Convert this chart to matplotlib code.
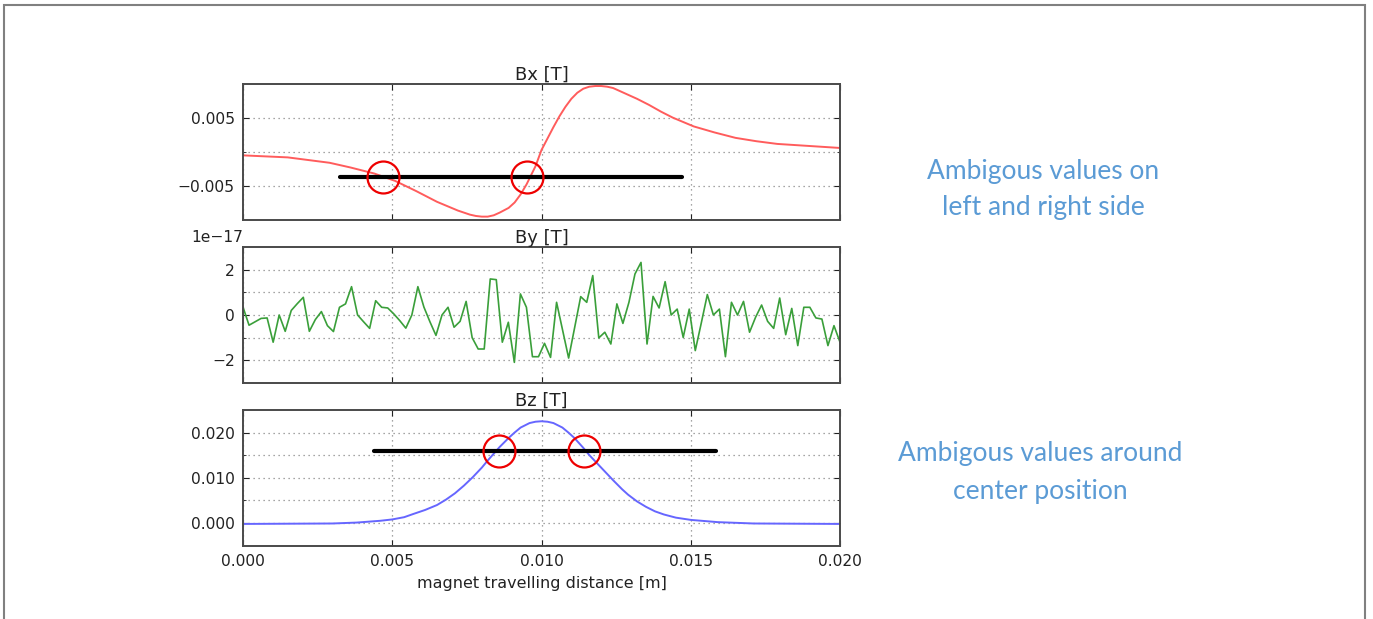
import numpy as np
import matplotlib
matplotlib.use('Agg')
import matplotlib.pyplot as plt
from matplotlib.ticker import FixedLocator, FuncFormatter
from matplotlib.patches import Rectangle

# ---------------- data ----------------
bx_x = [0.0, 0.0015, 0.0029, 0.0036, 0.0044, 0.0051, 0.0058, 0.0065, 0.0072,
        0.0076, 0.0078, 0.0080, 0.0082, 0.0084, 0.0086, 0.0089, 0.0091, 0.0093,
        0.0095, 0.0098, 0.0100, 0.0102, 0.0104, 0.0106, 0.0108, 0.0110, 0.0112,
        0.0114, 0.0116, 0.0118, 0.0120, 0.0122, 0.0124, 0.0126, 0.0129, 0.0132,
        0.0136, 0.0140, 0.0144, 0.0151, 0.0158, 0.0165, 0.0172, 0.0179, 0.0186,
        0.0200]
bx_v = [-0.0005, -0.0008, -0.0016, -0.0023, -0.0032, -0.0043, -0.0058, -0.0074, -0.0087,
        -0.0093, -0.0095, -0.0096, -0.0096, -0.0094, -0.0090, -0.0083, -0.0075, -0.0063,
        -0.0048, -0.0021, 0.0003, 0.0020, 0.0037, 0.0053, 0.0067, 0.0079, 0.0088,
        0.0094, 0.0097, 0.0098, 0.0098, 0.0097, 0.0095, 0.0091, 0.0085, 0.0079,
        0.0070, 0.0060, 0.0051, 0.0038, 0.0029, 0.0021, 0.0016, 0.0012, 0.0010,
        0.0006]

by_v = [0.35, -0.45, -0.3, -0.15, -0.13, -1.2, 0.0, -0.72, 0.2, 0.5,
        0.78, -0.72, -0.2, 0.15, -0.47, -0.73, 0.34, 0.49, 1.25, 0.0,
        -0.3, -0.59, 0.63, 0.34, 0.31, 0.05, -0.25, -0.58, 0.0, 1.25,
        0.35, -0.3, -0.9, 0.0, 0.34, -0.54, -0.28, 0.6, -1.0, -1.5,
        -1.5, 1.59, 1.56, -1.2, -0.32, -2.09, 0.93, 0.34, -1.84, -1.84,
        -1.25, -1.87, 0.56, -0.67, -1.9, -0.55, 0.81, 0.56, 1.74, -1.01,
        -0.76, -1.28, 0.49, -0.37, 0.56, 1.81, 2.32, -1.28, 0.82, 0.31,
        1.47, 0.0, 0.26, -0.99, 0.26, -1.57, -0.35, 0.9, 0.0, 0.26,
        -1.84, 0.56, 0.0, 0.6, -0.76, -0.1, 0.44, -0.28, -0.59, 0.75,
        -0.87, 0.29, -1.35, 0.34, 0.34, -0.13, -0.18, -1.35, -0.47, -1.2]
by_scale = 1e-17
by_x = np.linspace(0.0, 0.02, len(by_v))

bz_x = [0.0, 0.0030, 0.0038, 0.0046, 0.0050, 0.0054, 0.0057, 0.0061, 0.0065,
        0.0068, 0.0071, 0.0074, 0.0077, 0.0080, 0.0082, 0.0084, 0.0086, 0.0089,
        0.0091, 0.0093, 0.0096, 0.0098, 0.0100, 0.0102, 0.0104, 0.0107, 0.0109,
        0.0111, 0.0114, 0.0116, 0.0118, 0.0121, 0.0124, 0.0127, 0.0129, 0.0132,
        0.0135, 0.0138, 0.0141, 0.0145, 0.0150, 0.0159, 0.0171, 0.0200]
bz_v = [-0.0003, -0.0002, 0.0000, 0.0004, 0.0007, 0.0012, 0.0019, 0.0028, 0.0039,
        0.0051, 0.0065, 0.0082, 0.0101, 0.0122, 0.0138, 0.0153, 0.0168, 0.0188,
        0.0200, 0.0211, 0.0221, 0.0224, 0.0225, 0.0224, 0.0221, 0.0211, 0.0200,
        0.0188, 0.0166, 0.0150, 0.0136, 0.0115, 0.0094, 0.0074, 0.0062, 0.0047,
        0.0035, 0.0025, 0.0018, 0.0011, 0.0006, 0.0001, -0.0002, -0.0003]

titles = ["Bx [T]", "By [T]", "Bz [T]"]
xlabel = "magnet travelling distance [m]"
x_ticks = [0.0, 0.005, 0.010, 0.015, 0.020]

# annotation overlays (data coordinates)
bx_bar_x = [0.00326, 0.01471]
bx_bar_y = -0.0037
bx_circ_x = [0.00470, 0.00952]
bz_bar_x = [0.00440, 0.01585]
bz_bar_y = 0.0160
bz_circ_x = [0.00859, 0.01141]

note1 = "Ambigous values on\nleft and right side"
note2 = "Ambigous values around\ncenter position"

# ---------------- figure ----------------
W, H = 1373, 619
fig = plt.figure(figsize=(W / 100, H / 100), dpi=100)
fig.patch.set_facecolor('white')

def fx(px):
    return px / W

def fy(py):
    return 1 - py / H

left, right = 243, 840
rows = [(84, 220), (247, 383), (410, 546)]
axes = []
for (t, b) in rows:
    ax = fig.add_axes([fx(left), fy(b), fx(right) - fx(left), (b - t) / H])
    axes.append(ax)

label_fs = 11.2
title_fs = 13
tick_color = '#222222'
spine_color = '#4a4a4a'

def minus_fmt(fmt):
    return FuncFormatter(lambda v, p: (fmt % v).replace('-', '\u2212'))

for i, ax in enumerate(axes):
    ax.set_xlim(0, 0.02)
    ax.xaxis.set_major_locator(FixedLocator(x_ticks))
    for s in ax.spines.values():
        s.set_color(spine_color)
        s.set_linewidth(1.4)
    ax.tick_params(which='both', direction='in', top=True, right=True,
                   labelsize=label_fs, colors=tick_color, length=4, pad=6)
    ax.tick_params(which='minor', length=2)
    ax.set_title(titles[i], fontsize=title_fs, color=tick_color, pad=2)
    ax.grid(True, which='both', linestyle=(0, (1, 3)), color='#888888', linewidth=0.9)
    ax.set_axisbelow(True)
    if i < 2:
        ax.tick_params(labelbottom=False)
    else:
        ax.xaxis.set_major_formatter(minus_fmt('%.3f'))
        ax.set_xlabel(xlabel, fontsize=11.5, color=tick_color, labelpad=5)
    ax.xaxis.grid(False, which='minor')

# Bx
ax = axes[0]
ax.plot(bx_x, bx_v, color='#ff5c5c', lw=1.4)
ax.set_ylim(-0.0101, 0.0101)
ax.yaxis.set_major_locator(FixedLocator([-0.005, 0.005]))
ax.yaxis.set_minor_locator(FixedLocator([0.0]))
ax.yaxis.set_major_formatter(minus_fmt('%.3f'))
ax.plot(bx_bar_x, [bx_bar_y, bx_bar_y], color='black', lw=3, solid_capstyle='round')
ax.plot(bx_circ_x, [bx_bar_y] * 2, linestyle='none', marker='o', ms=23,
        mfc='none', mec='#ee0000', mew=1.6)

# By
ax = axes[1]
ax.plot(by_x, np.array(by_v) * by_scale, color='#3a9f3a', lw=1.2)
ax.set_ylim(-3e-17, 3e-17)
ax.yaxis.set_major_locator(FixedLocator([-2e-17, 0.0, 2e-17]))
ax.yaxis.set_minor_locator(FixedLocator([-1e-17, 1e-17]))
ax.yaxis.set_major_formatter(FuncFormatter(
    lambda v, p: ('%d' % round(v / by_scale)).replace('-', '\u2212')))
ax.text(0.0, 1.015, '1e\u221217', transform=ax.transAxes, ha='right', va='bottom',
        fontsize=label_fs, color=tick_color)

# Bz
ax = axes[2]
ax.plot(bz_x, bz_v, color='#6666ff', lw=1.4)
ax.set_ylim(-0.0052, 0.025)
ax.yaxis.set_major_locator(FixedLocator([0.0, 0.01, 0.02]))
ax.yaxis.set_minor_locator(FixedLocator([0.005, 0.015]))
ax.yaxis.set_major_formatter(minus_fmt('%.3f'))
ax.plot(bz_bar_x, [bz_bar_y, bz_bar_y], color='black', lw=3, solid_capstyle='round')
ax.plot(bz_circ_x, [bz_bar_y] * 2, linestyle='none', marker='o', ms=23,
        mfc='none', mec='#ee0000', mew=1.6)

# notes
note_color = '#5b9bd5'
fig.text(fx(1043), fy(189.5), note1, ha='center', va='center', fontsize=19,
         family='Lato', color=note_color, linespacing=1.6)
fig.text(fx(1040), fy(472.5), note2, ha='center', va='center', fontsize=19,
         family='Lato', color=note_color, linespacing=1.6)

# outer frame
fig.add_artist(Rectangle((fx(4), -0.05), fx(1365) - fx(4), fy(5) + 0.05,
                         transform=fig.transFigure, fill=False,
                         edgecolor='#808080', linewidth=1.5))

fig.savefig('out.png', dpi=100)
